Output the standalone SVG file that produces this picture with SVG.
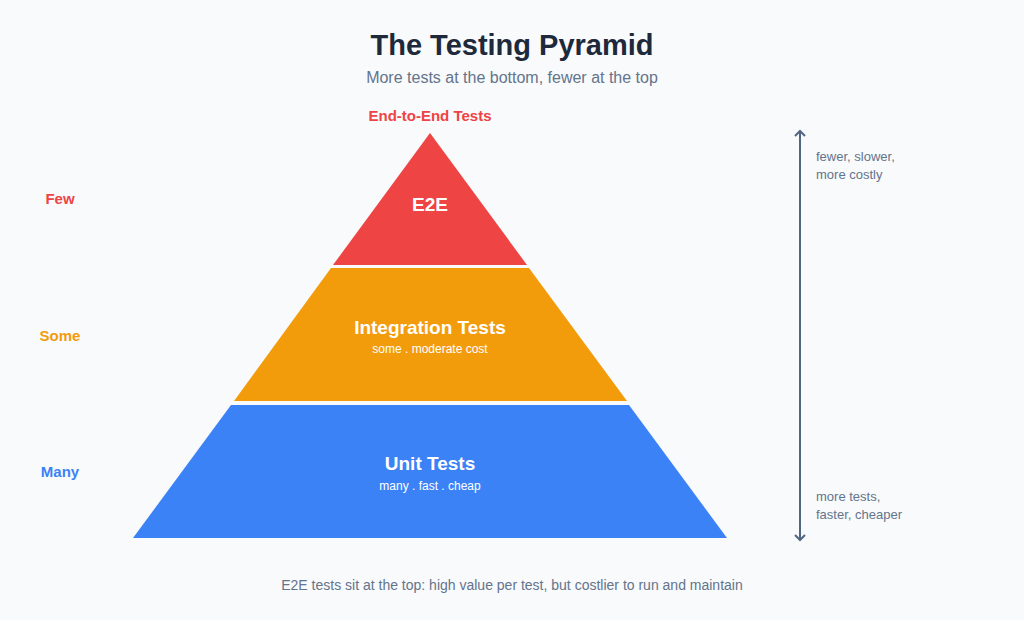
<svg xmlns="http://www.w3.org/2000/svg" width="1024" height="620" viewBox="0 0 1024 620">
<style>
text{font-family:"Liberation Sans",Arial,sans-serif}
.t{font-size:19px;font-weight:bold;fill:#fff;text-anchor:middle}
.s{font-size:12px;fill:#fff;text-anchor:middle}
.l{font-size:15px;font-weight:bold;text-anchor:middle}
.n{font-size:13px;fill:#64748b}
</style>
<defs><marker id="a" viewBox="0 0 12 12" refX="6" refY="6" markerWidth="12" markerHeight="12" markerUnits="userSpaceOnUse" orient="auto-start-reverse"><path d="M1,1 L6,6 L1,11" fill="none" stroke="#526582" stroke-width="2"/></marker></defs>
<rect width="1024" height="620" fill="#f8fafc"/>
<text x="512" y="55" font-size="29" font-weight="bold" fill="#1e293b" text-anchor="middle">The Testing Pyramid</text>
<text x="512" y="83" font-size="16" fill="#64748b" text-anchor="middle">More tests at the bottom, fewer at the top</text>
<g id="e2e"><polygon points="430,133 527,265 333,265" fill="#ef4444"/><text class="t" x="430" y="211">E2E</text></g>
<g id="integration"><polygon points="331,268 529,268 627,401 234,401" fill="#f39c0b"/><text class="t" x="430" y="334">Integration Tests</text><text class="s" x="430" y="353">some  .  moderate cost</text></g>
<g id="unit"><polygon points="231,405 629,405 727,538 133,538" fill="#3b82f6"/><text class="t" x="430" y="470">Unit Tests</text><text class="s" x="430" y="490">many  .  fast  .  cheap</text></g>
<text class="l" x="430" y="121" fill="#ef4444">End-to-End Tests</text>
<text class="l" x="60" y="204" fill="#ef4444">Few</text>
<text class="l" x="60" y="341" fill="#f39c0b">Some</text>
<text class="l" x="60" y="477" fill="#3b82f6">Many</text>
<g id="connectors"><line x1="800" y1="131" x2="800" y2="540" stroke="#526582" stroke-width="2" marker-start="url(#a)" marker-end="url(#a)"/></g>
<text class="n" x="816" y="161">fewer, slower,</text>
<text class="n" x="816" y="179">more costly</text>
<text class="n" x="816" y="501">more tests,</text>
<text class="n" x="816" y="519">faster, cheaper</text>
<text x="512" y="590" font-size="14" fill="#64748b" text-anchor="middle">E2E tests sit at the top: high value per test, but costlier to run and maintain</text>
</svg>
